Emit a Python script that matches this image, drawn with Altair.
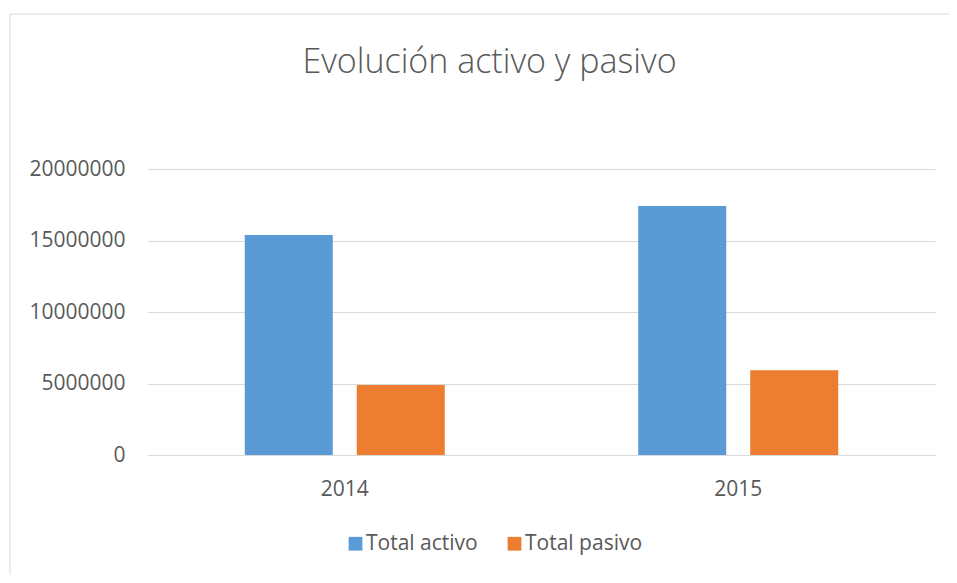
import altair as alt
import pandas as pd

title_text = "Evolución activo y pasivo"
years = ["2014", "2015"]
series = ["Total activo", "Total pasivo"]
total_activo = [15380000, 17410000]
total_pasivo = [4890000, 5920000]
colors = ["#5B9BD5", "#ED7D31"]
y_ticks = [0, 5000000, 10000000, 15000000, 20000000]

rows = []
for i, y in enumerate(years):
    rows.append({"year": y, "serie": series[0], "valor": total_activo[i]})
    rows.append({"year": y, "serie": series[1], "valor": total_pasivo[i]})
df = pd.DataFrame(rows)

FONT = "Open Sans"
TXT = "#595959"
GRID = "#d9d9d9"

bars = alt.Chart(df).mark_bar().encode(
    x=alt.X(
        "year:N",
        sort=years,
        scale=alt.Scale(paddingInner=0.4917, paddingOuter=0.2459),
        axis=alt.Axis(
            title=None, labelAngle=0, labelFont=FONT, labelFontSize=21,
            labelColor=TXT, labelPadding=23, ticks=False,
            domainColor=GRID, domainWidth=1, grid=False,
        ),
    ),
    xOffset=alt.XOffset(
        "serie:N", sort=series,
        scale=alt.Scale(paddingInner=0.2143, paddingOuter=0),
    ),
    y=alt.Y(
        "valor:Q",
        scale=alt.Scale(domain=[0, 20000000], nice=False),
        axis=alt.Axis(
            title=None, values=y_ticks, format="d", ticks=False, domain=False,
            gridColor=GRID, gridWidth=1, labelFont=FONT, labelFontSize=21,
            labelColor=TXT, labelPadding=23,
        ),
    ),
    color=alt.Color(
        "serie:N",
        scale=alt.Scale(domain=series, range=colors),
        legend=alt.Legend(
            title=None, orient="none", legendX=197, legendY=364,
            direction="horizontal", symbolType="square", symbolSize=190,
            symbolStrokeWidth=0, labelFont=FONT, labelFontSize=21,
            labelColor=TXT, labelOffset=0, columnPadding=26,
        ),
    ),
)

frame = alt.Chart(pd.DataFrame({"k": [0]})).mark_rect(
    fill="transparent", stroke=GRID, strokeWidth=1
).encode(
    x=alt.value(-138), x2=alt.value(900), y=alt.value(-155), y2=alt.value(500)
)

title = alt.Chart(pd.DataFrame({"t": [title_text]})).mark_text(
    font=FONT, fontSize=34, fontWeight=300, color=TXT,
    align="center", baseline="alphabetic",
).encode(
    text="t:N", x=alt.value(341.5), y=alt.value(-96)
)

chart = alt.layer(frame, bars, title).properties(
    width=787,
    height=286,
    autosize=alt.AutoSizeParams(type="none"),
    padding={"left": 140, "top": 161, "right": 14, "bottom": 120},
).configure_view(stroke=None)

chart.save("out.html", embed_options={"renderer": "svg", "actions": False})
